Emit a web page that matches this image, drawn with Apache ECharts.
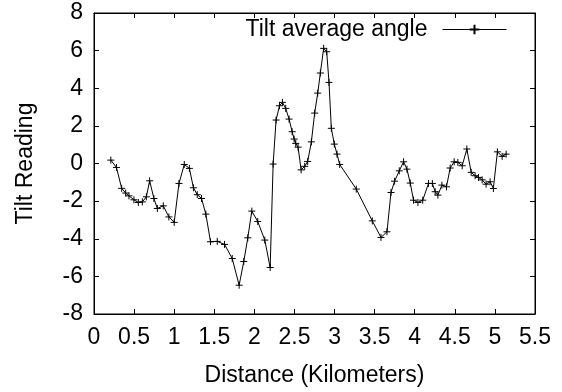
<!DOCTYPE html>
<html>
<head>
<meta charset="utf-8">
<script src="https://cdn.jsdelivr.net/npm/echarts@6/dist/echarts.min.js"></script>
<style>html,body{margin:0;padding:0;background:#fff}#c{width:562px;height:392px}</style>
</head>
<body>
<div id="c"></div>
<script>
var distanceKm = [0.21,0.28,0.345,0.395,0.436,0.498,0.553,0.603,0.653,0.694,0.747,0.79,0.864,0.934,1.0,1.06,1.126,1.19,1.24,1.288,1.341,1.395,1.453,1.537,1.628,1.724,1.81,1.868,1.918,1.968,2.042,2.13,2.197,2.234,2.271,2.313,2.35,2.391,2.433,2.471,2.496,2.516,2.545,2.583,2.628,2.665,2.711,2.752,2.79,2.823,2.864,2.902,2.931,2.96,2.997,3.031,3.064,3.271,3.471,3.579,3.654,3.704,3.749,3.807,3.861,3.903,3.944,3.985,4.04,4.1,4.172,4.22,4.255,4.289,4.339,4.396,4.442,4.492,4.538,4.592,4.65,4.704,4.753,4.795,4.841,4.89,4.94,4.981,5.031,5.09,5.14];
var tiltAngle = [0.18,-0.21,-1.32,-1.57,-1.72,-1.93,-2.07,-2.04,-1.77,-0.92,-1.86,-2.39,-2.25,-2.84,-3.13,-1.06,-0.05,-0.26,-1.29,-1.66,-1.86,-2.69,-4.16,-4.14,-4.30,-5.05,-6.47,-5.21,-3.95,-2.53,-3.08,-4.07,-5.53,-0.03,2.31,3.07,3.25,2.93,2.36,1.69,1.30,1.07,0.87,-0.34,-0.15,0.11,1.15,2.68,3.74,4.81,6.12,5.94,4.31,1.87,1.03,0.5,-0.05,-1.36,-3.05,-3.93,-3.63,-1.54,-0.94,-0.39,0.09,-0.30,-1.04,-1.95,-2.07,-1.95,-1.06,-1.06,-1.5,-1.68,-1.15,-1.24,-0.24,0.09,0.06,-0.12,0.77,-0.47,-0.65,-0.74,-0.87,-1.1,-0.97,-1.33,0.62,0.38,0.5];
var seriesName = 'Tilt average angle';
var xTitle = 'Distance (Kilometers)';
var yTitle = 'Tilt Reading';

var FONT = 'Liberation Sans, Arial, sans-serif';
var FS = 23;
var pts = distanceKm.map(function(x, i){ return [x, tiltAngle[i]]; });
var cross = 'path://M0,5L10,5M5,0L5,10';

var chart = echarts.init(document.getElementById('c'), null, {renderer: 'canvas'});
var tickCommon = {show: true, inside: true, length: 5, lineStyle: {color: '#000', width: 1}};
chart.setOption({
  animation: false,
  backgroundColor: '#fff',
  grid: {left: 94, right: 27, top: 13, bottom: 77, show: true, borderColor: '#000', borderWidth: 1, containLabel: false},
  legend: {
    show: true,
    right: 55, top: 18, padding: 0,
    align: 'right',
    itemWidth: 64, itemHeight: 12,
    lineStyle: {width: 1, color: '#000'},
    textStyle: {fontFamily: FONT, fontSize: FS, color: '#000', padding: [0, 10, 0, 0]},
    data: [seriesName]
  },
  xAxis: [{
    type: 'value', min: 0, max: 5.5, interval: 0.5, position: 'bottom',
    name: xTitle, nameLocation: 'middle', nameGap: 50,
    nameTextStyle: {fontFamily: FONT, fontSize: FS, color: '#000'},
    axisLine: {show: true, onZero: false, lineStyle: {color: '#000', width: 1}},
    axisTick: tickCommon,
    axisLabel: {fontFamily: FONT, fontSize: FS, color: '#000', margin: 12},
    splitLine: {show: false}
  }, {
    type: 'value', min: 0, max: 5.5, interval: 0.5, position: 'top',
    axisLine: {show: true, onZero: false, lineStyle: {color: '#000', width: 1}},
    axisTick: tickCommon, axisLabel: {show: false}, splitLine: {show: false}
  }],
  yAxis: [{
    type: 'value', min: -8, max: 8, interval: 2, position: 'left',
    name: yTitle, nameLocation: 'middle', nameGap: 57, nameRotate: 90,
    nameTextStyle: {fontFamily: FONT, fontSize: FS, color: '#000'},
    axisLine: {show: true, onZero: false, lineStyle: {color: '#000', width: 1}},
    axisTick: tickCommon,
    axisLabel: {fontFamily: FONT, fontSize: FS, color: '#000', margin: 11},
    splitLine: {show: false}
  }, {
    type: 'value', min: -8, max: 8, interval: 2, position: 'right',
    axisLine: {show: true, onZero: false, lineStyle: {color: '#000', width: 1}},
    axisTick: tickCommon, axisLabel: {show: false}, splitLine: {show: false}
  }],
  series: [{
    name: seriesName,
    type: 'line',
    xAxisIndex: 0, yAxisIndex: 0,
    data: pts,
    showSymbol: true, showAllSymbol: true,
    symbol: cross, symbolSize: 7,
    itemStyle: {color: '#000', borderColor: '#000', borderWidth: 1},
    lineStyle: {color: '#000', width: 1},
    emphasis: {disabled: true}
  }]
});
</script>
</body>
</html>
